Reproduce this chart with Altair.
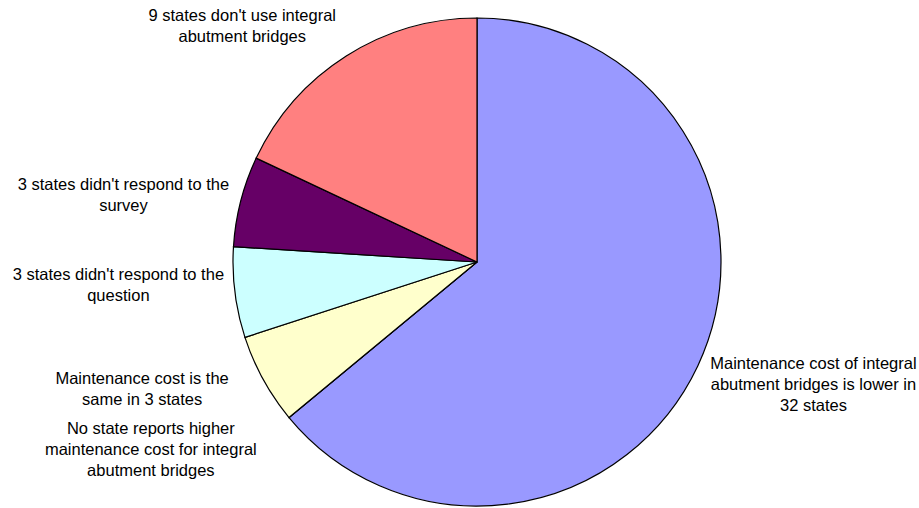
import altair as alt
import pandas as pd

categories = ["lower", "higher", "same", "no_question", "no_survey", "not_used"]
states = [32, 0, 3, 3, 3, 9]
labels = [
    "Maintenance cost of integral\nabutment bridges is lower in\n32 states",
    "No state reports higher\nmaintenance cost for integral\nabutment bridges",
    "Maintenance cost is the\nsame in 3 states",
    "3 states didn't respond to the\nquestion",
    "3 states didn't respond to the\nsurvey",
    "9 states don't use integral\nabutment bridges",
]

colors = ["#9999FF", "#993366", "#FFFFCC", "#CCFFFF", "#660066", "#FF8080"]
LINE_H = 21
# label offsets (pixels) from a point at radius 300 on each slice's mid angle
offsets = {
    "lower": (65, -5),
    "higher": (-95, -3),
    "same": (-72, -17),
    "no_question": (-61, -14),
    "no_survey": (-63, 8),
    "not_used": (-74, 18),
}

df = pd.DataFrame({"category": categories, "states": states, "label": labels})

base = (
    alt.Chart(df)
    .transform_window(idx="row_number()")
    .transform_window(cum="sum(states)", sort=[alt.SortField("idx")], frame=[None, 0])
    .transform_calculate(mid="datum.cum - datum.states / 2")
)

theta_scale = alt.Scale(domain=[0, sum(states)])

pie = base.mark_arc(radius=244, stroke="black", strokeWidth=1.2).encode(
    theta=alt.Theta("states:Q", stack=True, scale=theta_scale),
    color=alt.Color("category:N", scale=alt.Scale(domain=categories, range=colors), legend=None),
    order=alt.Order("idx:Q"),
)

texts = []
for cat, lab in zip(categories, labels):
    dx, dy = offsets[cat]
    n_lines = lab.count("\n") + 1
    dy = dy - (n_lines - 1) / 2 * LINE_H
    t = (
        base.transform_filter(alt.datum.category == cat)
        .mark_text(
            radius=300, dx=dx, dy=dy, align="center", baseline="middle",
            lineBreak="\n", fontSize=16.5, lineHeight=LINE_H,
            font="Liberation Sans", color="black",
        )
        .encode(
            theta=alt.Theta("mid:Q", stack=None, scale=theta_scale),
            text="label:N",
        )
    )
    texts.append(t)

chart = (
    alt.layer(pie, *texts)
    .properties(
        width=884, height=492,
        padding={"left": 35, "top": 16, "right": 0, "bottom": 0},
        autosize=alt.AutoSizeParams(type="none"),
        background="white",
    )
    .configure_view(stroke=None)
)

chart.save("out.html", embed_options={"renderer": "svg", "actions": False})
